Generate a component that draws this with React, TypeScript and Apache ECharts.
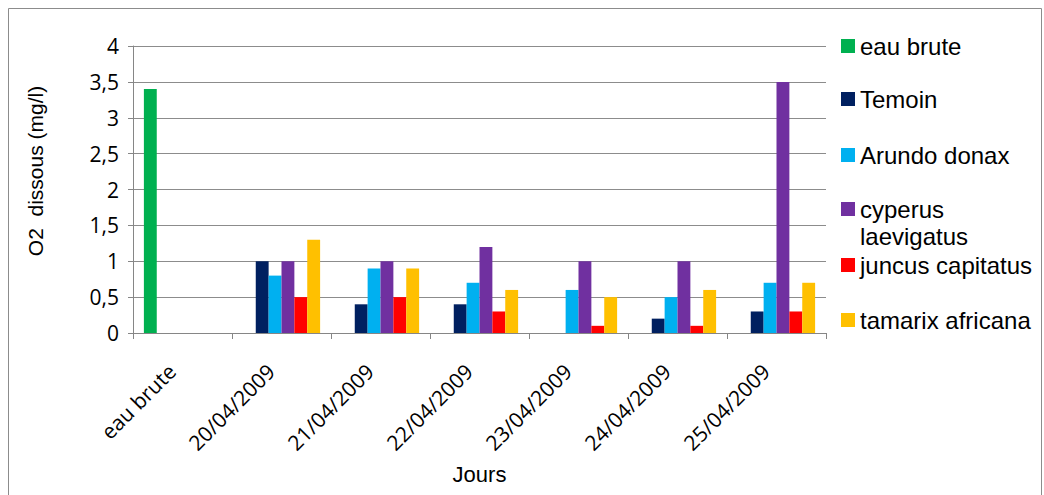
import React, { useEffect, useRef } from "react";
import * as echarts from "echarts";

const categories = [
  "eau brute",
  "20/04/2009",
  "21/04/2009",
  "22/04/2009",
  "23/04/2009",
  "24/04/2009",
  "25/04/2009",
];

const seriesNames = [
  "eau brute",
  "Temoin",
  "Arundo donax",
  "cyperus laevigatus",
  "juncus capitatus",
  "tamarix africana",
];

const eauBrute = [3.4, null, null, null, null, null, null];
const temoin = [null, 1, 0.4, 0.4, null, 0.2, 0.3];
const arundoDonax = [null, 0.8, 0.9, 0.7, 0.6, 0.5, 0.7];
const cyperusLaevigatus = [null, 1, 1, 1.2, 1, 1, 3.5];
const juncusCapitatus = [null, 0.5, 0.5, 0.3, 0.1, 0.1, 0.3];
const tamarixAfricana = [null, 1.3, 0.9, 0.6, 0.5, 0.6, 0.7];

const seriesData = [eauBrute, temoin, arundoDonax, cyperusLaevigatus, juncusCapitatus, tamarixAfricana];
const seriesColors = ["#00B050", "#002060", "#00B0F0", "#7030A0", "#FF0000", "#FFC000"];

const yTicks = [0, 0.5, 1, 1.5, 2, 2.5, 3, 3.5, 4];

const legendCenters = [46, 99, 155, 209, 265, 320];

export default function App() {
  const ref = useRef<HTMLDivElement>(null);

  useEffect(() => {
    if (!ref.current) return;
    const el = ref.current;
    const chart = echarts.init(el, null, { renderer: "svg" });
    const H = el.clientHeight || 495;
    const axisFont = "Open Sans";
    const option: any = {
      animation: false,
      backgroundColor: "#ffffff",
      grid: {
        left: 133,
        right: 218,
        top: 46,
        height: 287,
        containLabel: false,
        outerBoundsMode: "none",
      },
      xAxis: {
        type: "category",
        data: categories,
        boundaryGap: true,
        axisLine: { show: true, lineStyle: { color: "#868686", width: 1 } },
        axisTick: { show: true, length: 6, alignWithLabel: false, lineStyle: { color: "#868686" } },
        axisLabel: {
          rotate: 45,
          interval: 0,
          margin: 24,
          padding: [0, 15, 0, 0],
          fontFamily: axisFont,
          fontSize: 21,
          color: "#000",
          hideOverlap: false,
        },
        name: "Jours",
        nameLocation: "middle",
        nameGap: 130,
        nameMoveOverlap: false,
        nameTextStyle: { fontFamily: "Liberation Sans", fontSize: 22, color: "#000" },
      },
      yAxis: {
        type: "value",
        min: yTicks[0],
        max: yTicks[yTicks.length - 1],
        interval: 0.5,
        axisLine: { show: true, lineStyle: { color: "#868686", width: 1 } },
        axisTick: { show: true, length: 5, lineStyle: { color: "#868686" } },
        splitLine: { show: true, lineStyle: { color: "#8c8c8c", width: 1 } },
        axisLabel: {
          margin: 14,
          fontFamily: axisFont,
          fontSize: 21,
          color: "#000",
          formatter: (v: number) => String(v).replace(".", ","),
        },
      },
      legend: seriesNames.map((name, i) => ({
        show: true,
        orient: "vertical",
        left: 841,
        top: legendCenters[i] - (i === 3 ? 40.5 : 13.5),
        padding: 0,
        itemWidth: 14,
        itemHeight: 14,
        itemGap: 0,
        selectedMode: false,
        icon: "rect",
        data: [name],
        formatter: (n: string) => (n === "cyperus laevigatus" ? " \ncyperus\nlaevigatus" : n),
        textStyle: { fontFamily: "Liberation Sans", fontSize: 24, lineHeight: 27, color: "#000" },
      })),
      graphic: [
        {
          type: "rect",
          shape: { x: 8.5, y: 8.5, width: 1033, height: H + 20 },
          style: { fill: "none", stroke: "#8c8c8c", lineWidth: 1 },
          silent: true,
          z: -1,
        },
        {
          type: "text",
          x: 35,
          y: 171,
          rotation: Math.PI / 2,
          style: {
            text: "O2  dissous (mg/l)",
            fontFamily: "Liberation Sans",
            fontSize: 21,
            fill: "#000",
            align: "center",
            verticalAlign: "middle",
          },
        },
      ],
      series: seriesNames.map((name, i) => ({
        name,
        type: "bar",
        data: seriesData[i],
        barGap: "0%",
        barCategoryGap: "22%",
        itemStyle: { color: seriesColors[i] },
      })),
    };
    chart.setOption(option);
    return () => chart.dispose();
  }, []);

  return (
    <div
      ref={ref}
      style={{ position: "absolute", left: 0, top: 0, width: 1044, height: 495 }}
    />
  );
}
